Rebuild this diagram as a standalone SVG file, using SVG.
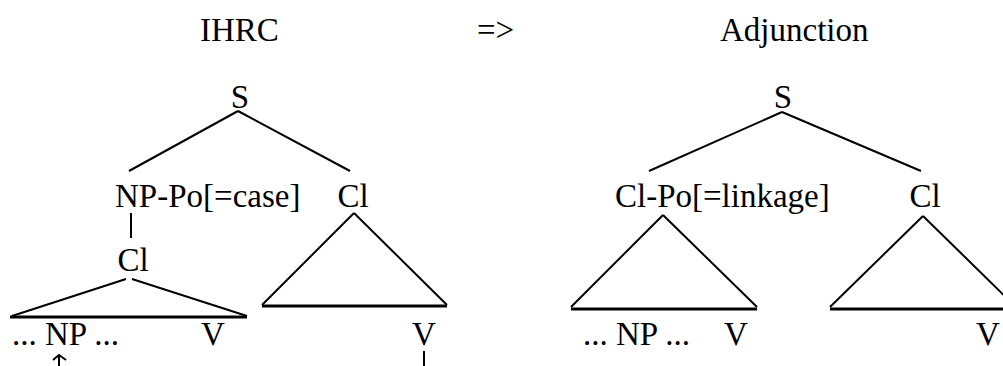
<svg xmlns="http://www.w3.org/2000/svg" width="1003" height="366" viewBox="0 0 1003 366">
<style>
text{font-family:"Liberation Serif","Times New Roman",serif;font-size:33px;fill:#000}
.e{stroke:#000;stroke-width:2;fill:none}
.b{stroke:#000;stroke-width:3;fill:none}
</style>
<rect width="1003" height="366" fill="#fff"/>
<g id="titles">
<text x="200" y="41">IHRC</text>
<text x="477" y="41">=&gt;</text>
<text x="720" y="41">Adjunction</text>
</g>
<g id="left-S"><text x="240" y="108" text-anchor="middle">S</text></g>
<g id="left-NPPo"><text x="115" y="207">NP-Po[=case]</text></g>
<g id="left-Cl"><text x="353" y="207" text-anchor="middle">Cl</text></g>
<g id="left-Cl-low"><text x="133" y="271" text-anchor="middle">Cl</text></g>
<g id="left-terminals"><text x="12" y="345">... NP ...</text><text x="213" y="345" text-anchor="middle">V</text></g>
<g id="left-V"><text x="424" y="345" text-anchor="middle">V</text></g>
<g id="right-S"><text x="783" y="108" text-anchor="middle">S</text></g>
<g id="right-ClPo"><text x="615" y="207">Cl-Po[=linkage]</text></g>
<g id="right-Cl"><text x="925" y="207" text-anchor="middle">Cl</text></g>
<g id="right-terminals"><text x="583" y="345">... NP ...</text><text x="736" y="345" text-anchor="middle">V</text></g>
<g id="right-V"><text x="988" y="345" text-anchor="middle">V</text></g>
<g id="connectors">
<path class="e" d="M238 111L129 171M238 111L350 171"/>
<path class="e" d="M131 213V238"/>
<path class="e" d="M12 316L126 279M132 279L247 316"/>
<path class="b" d="M10 317H247"/>
<path class="e" d="M354 213L262 305M354 213L447 305"/>
<path class="b" d="M262 306H447"/>
<path class="e" d="M59 355V366M53 360L59 355L66 360"/>
<path class="e" d="M424 351V366"/>
<path class="e" d="M782 112L649 171M782 112L921 171"/>
<path class="e" d="M663 215L571 307M663 215L757 307"/>
<path class="b" d="M571 309H757"/>
<path class="e" d="M923 216L830 307M923 216L1016 307"/>
<path class="b" d="M830 309H1003"/>
</g>
</svg>
